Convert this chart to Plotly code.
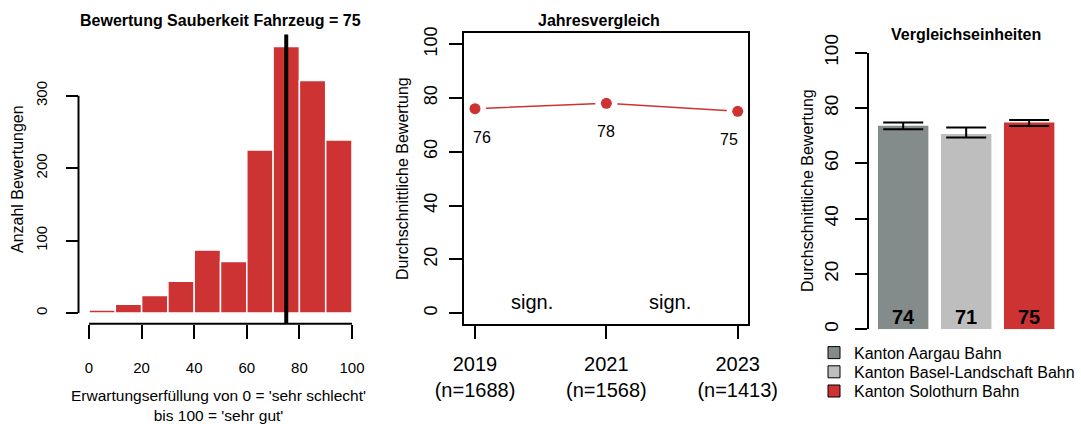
import plotly.graph_objects as go

# --- data ---
bin_edges = [0, 10, 20, 30, 40, 50, 60, 70, 80, 90, 100]
bin_counts = [4, 12, 24, 44, 87, 71, 225, 368, 321, 239]
current_mean = 75

years = [2019, 2021, 2023]
year_n = [1688, 1568, 1413]
year_means = [76, 78, 75]
sign_x = [2019.87, 2021.97]
sign_labels = ["sign.", "sign."]

units = ["Kanton Aargau Bahn", "Kanton Basel-Landschaft Bahn", "Kanton Solothurn Bahn"]
unit_means = [73.6, 70.6, 74.8]
unit_ci_low = [72.3, 69.3, 73.5]
unit_ci_high = [74.8, 73.0, 75.7]
unit_colors = ["#838B8B", "#BEBEBE", "#CD3333"]

RED = "#CD3333"
FONT = "Liberation Sans, Arial, sans-serif"
W, H = 1081, 424


def fx(p):
    return p / W


def fy(p):
    return 1 - p / H


def xd(a, b):
    return [fx(a), fx(b)]


def yd(top, bottom):
    return [fy(bottom), fy(top)]


fig = go.Figure()

# histogram
mids = [(a + b) / 2 for a, b in zip(bin_edges[:-1], bin_edges[1:])]
fig.add_trace(go.Bar(x=mids, y=bin_counts, width=10, marker=dict(color=RED, line=dict(color="white", width=1.5)),
                     xaxis="x", yaxis="y", showlegend=False, hoverinfo="x+y"))

# year comparison (white markers leave gaps in the line like R type="b")
fig.add_trace(go.Scatter(x=years, y=year_means, mode="lines+markers", line=dict(color=RED, width=1.5),
                         marker=dict(color="white", size=22), xaxis="x2", yaxis="y2", showlegend=False))
fig.add_trace(go.Scatter(x=years, y=year_means, mode="markers", marker=dict(color=RED, size=11),
                         xaxis="x2", yaxis="y2", showlegend=False))

# comparison units, one legend per unit so rows sit as tight as in R
legend_rows = [352.7, 371.9, 391.1]
legend_ids = ["legend", "legend2", "legend3"]
for i, (name, m, lo, hi, c) in enumerate(zip(units, unit_means, unit_ci_low, unit_ci_high, unit_colors)):
    fig.add_trace(go.Bar(x=[i + 1], y=[m], width=0.8, marker=dict(color=c, line=dict(width=0)),
                         error_y=dict(type="data", symmetric=False, array=[hi - m], arrayminus=[m - lo],
                                      color="black", thickness=2, width=20),
                         xaxis="x3", yaxis="y3", showlegend=False))
    fig.add_trace(go.Bar(x=[None], y=[None], name=name, marker=dict(color=c, line=dict(color="black", width=1)),
                         xaxis="x3", yaxis="y3", showlegend=True, legend=legend_ids[i]))

axis_common = dict(showgrid=False, zeroline=False, ticks="outside", tickcolor="black", tickwidth=2,
                   automargin=False)

fig.update_layout(
    width=W, height=H, margin=dict(l=0, r=0, t=0, b=0, autoexpand=False),
    paper_bgcolor="white", plot_bgcolor="white", barmode="overlay",
    font=dict(family=FONT, color="black"),
    xaxis=dict(domain=xd(78.5, 362.5), range=[-4, 104], tickvals=[0, 20, 40, 60, 80, 100], ticklen=14,
               ticklabelstandoff=16, anchor="y", showline=False, tickfont=dict(family=FONT, size=15), **axis_common),
    yaxis=dict(domain=yd(34.4, 323.7), range=[-14.8, 384.8], tickvals=[0, 100, 200, 300], ticklen=12,
               ticklabelstandoff=13, tickangle=-90, anchor="x", showline=False,
               tickfont=dict(family=FONT, size=15), **axis_common),
    xaxis2=dict(domain=xd(463.7, 747.7), range=[2018.828, 2023.152], tickvals=years,
                ticktext=[f"{y}<br>(n={n})" for y, n in zip(years, year_n)], ticklen=13, ticklabelstandoff=8,
                anchor="y2", showline=True, mirror=True, linecolor="black", linewidth=2,
                tickfont=dict(family=FONT, size=20), **axis_common),
    yaxis2=dict(domain=yd(33.3, 324), range=[-4, 104], tickvals=[0, 20, 40, 60, 80, 100], ticklen=13,
                ticklabelstandoff=5, tickangle=-90, anchor="x2", showline=True, mirror=True, linecolor="black",
                linewidth=2, tickfont=dict(family=FONT, size=18), **axis_common),
    xaxis3=dict(domain=xd(869.3, 1063.5), range=[0.462, 3.545], anchor="y3", visible=False),
    yaxis3=dict(domain=yd(52.7, 329.3), range=[0, 100], tickvals=[0, 20, 40, 60, 80, 100], ticklen=12,
                ticklabelstandoff=10, tickangle=-90, anchor="x3", showline=True, linecolor="black", linewidth=2,
                tickfont=dict(family=FONT, size=19), **axis_common),
)
for lid, row in zip(legend_ids, legend_rows):
    fig.update_layout({lid: dict(x=fx(814), y=fy(row), xanchor="left", yanchor="middle",
                                 bgcolor="rgba(0,0,0,0)", font=dict(family=FONT, size=16))})

# axis lines of the histogram (R style: only between first and last tick)
fig.add_shape(type="line", xref="x", yref="y domain", x0=0, x1=100, y0=0, y1=0, line=dict(color="black", width=2))
fig.add_shape(type="line", xref="x domain", yref="y", x0=0, x1=0, y0=0, y1=300, line=dict(color="black", width=2))
# mean line
fig.add_shape(type="line", xref="x", yref="y domain", x0=current_mean, x1=current_mean, y0=0, y1=1,
              line=dict(color="black", width=4))

ann = []
# titles
ann.append(dict(text=f"<b>Bewertung Sauberkeit Fahrzeug = {current_mean}</b>", x=fx(220), y=fy(20.5),
                font=dict(size=16)))
ann.append(dict(text="<b>Jahresvergleich</b>", x=fx(599), y=fy(20.5), font=dict(size=16)))
ann.append(dict(text="<b>Vergleichseinheiten</b>", x=fx(966), y=fy(34), font=dict(size=16)))
# axis titles
ann.append(dict(text="Anzahl Bewertungen", x=fx(17), y=fy(179), textangle=-90, font=dict(size=16)))
ann.append(dict(text="Erwartungserfüllung von 0 = 'sehr schlecht'<br>bis 100 = 'sehr gut'", x=fx(218),
                y=fy(405.5), font=dict(size=15.5)))
ann.append(dict(text="Durchschnittliche Bewertung", x=fx(402), y=fy(179), textangle=-90, font=dict(size=16)))
ann.append(dict(text="Durchschnittliche Bewertung", x=fx(807), y=fy(191), textangle=-90, font=dict(size=16)))
for a in ann:
    a.update(xref="paper", yref="paper", showarrow=False, xanchor="center", yanchor="middle")

# data labels
for y, v, sh in zip(years, year_means, [7, 0, -9]):
    ann.append(dict(text=str(v), x=y, y=v, xref="x2", yref="y2", showarrow=False, yanchor="top",
                    yshift=-18, xshift=sh, font=dict(size=16)))
for sx, s in zip(sign_x, sign_labels):
    ann.append(dict(text=s, x=sx, y=4, xref="x2", yref="y2", showarrow=False, font=dict(size=20)))
for i, m in enumerate(unit_means):
    ann.append(dict(text=f"<b>{round(m)}</b>", x=i + 1, y=0, xref="x3", yref="y3", showarrow=False,
                    yanchor="bottom", yshift=-1, font=dict(size=20)))

fig.update_layout(annotations=ann)
# drop the default 8px body margin so the figure fills the window exactly; no modebar
fig.write_html("out.html", config={"displayModeBar": False},
               post_script="document.body.style.margin='0';")
